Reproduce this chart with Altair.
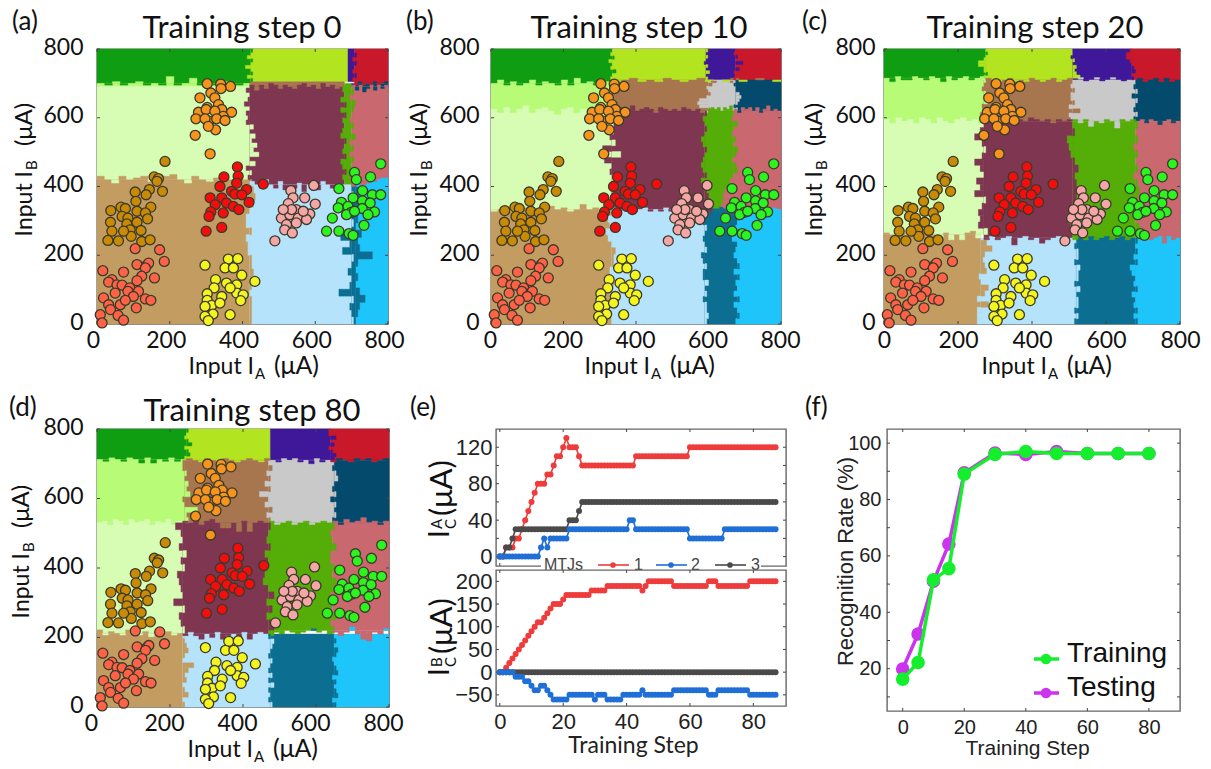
import altair as alt
import pandas as pd

# ---------- region colours ----------
DG, LM, IN, RD = "#0F9D12", "#B2E41F", "#3F1799", "#C9182A"
MG, PG, TN, BR = "#B7FB77", "#D7FDB4", "#C39C62", "#A7754E"
MR, GY, NV, GN = "#7F3650", "#C9C9C9", "#034A6C", "#55AD08"
RS, LB, TL, CY = "#C9686F", "#B4E3FB", "#0C6F92", "#1EC5FA"

# ---------- regions: (x0, x1, y0, y1, colour) ----------
BASE_A = [(0,423,700,800,DG),(423,690,705,800,LM),(690,708,705,800,IN),(708,800,700,800,RD),
          (0,420,690,700,MG),(0,420,420,690,PG),(0,420,0,420,TN),(420,680,690,705,BR),
          (420,680,405,690,MR),(680,700,405,700,GN),(700,800,690,700,NV),(700,800,420,690,RS),
          (420,700,0,405,LB),(700,712,0,420,TL),(712,800,0,420,CY)]
EDGES_A = [("h",700,0,423,MG,DG,[0,-5,5,-5,0,5,-5,0,-5,20,-5,0,15,-5,0,-5,5,0,-5,0]),
           ("h",420,0,420,TN,PG,[10,0,-10,10,0,5,10,-5,0,10,15,0,-10,10,0,-5,5,10,0,10,0]),
           ("v",420,0,420,TN,LB,[5,5,5,5,0,5,5,10,5,5,-5,-5,-10,5,-10,-10,0,10,15,10,5]),
           ("v",420,420,700,PG,MR,[-5,5,-10,15,0,25,10,20,5,15,0,10,-10,-5,-10,0,-15,-5,0,-10,0]),
           ("h",405,420,680,LB,MR,[10,0,-10,15,0,-10,10,-15,-5,-10,5,-20,0,10,-15,10,0,-10,-20,0]),
           ("h",690,420,680,MR,BR,[5,-10,5,-5,10,5,-5,5,0,-5,5,10,0,5,-5,10,0,5,-5,0]),
           ("v",680,405,690,MR,GN,[0,-5,5,-5,-10,5,-5,0,5,-10,-5,0,-5,5,-10,5,-10,0,-5]),
           ("v",700,405,700,GN,RS,[5,-5,10,0,5,-5,5,-5,10,0,5,-5,0,5,10,-5,5,0]),
           ("v",423,705,800,DG,LM,[5,-10,5,0,-15,0,5,-10,0,5]),
           ("v",708,705,800,IN,RD,[-5,5,-5,0,5,-5,5,0]),
           ("h",700,708,800,NV,RD,[-5,5,-5,0,-5,5,-5,0,5]),
           ("h",690,700,800,RS,NV,[5,-10,5,-15,-5,5,-10,5,-5,5]),
           ("h",420,700,800,CY,RS,[-20,-10,-15,-15,-10,-5,-5,0,5,5]),
           ("v",700,0,405,LB,TL,[5,0,-5,5,-35,-5,0,-10,0,5,-25,-5,-30,0,5,0,-20,-5,5,0]),
           ("v",712,0,420,TL,CY,[0,5,10,25,10,0,5,0,5,45,10,5,15,0,5,0,5,10,5,0])]

BASE_B = [(0,335,700,800,DG),(335,593,710,800,LM),(593,675,710,800,IN),(675,800,710,800,RD),
          (0,333,620,700,MG),(0,333,333,620,PG),(0,333,0,333,TN),(333,600,620,710,BR),
          (600,675,620,710,GY),(675,800,620,710,NV),(333,590,333,620,MR),(590,670,320,620,GN),
          (670,800,333,620,RS),(333,590,0,333,LB),(590,680,0,320,TL),(680,800,0,333,CY)]
EDGES_B = [("h",700,0,335,MG,DG,[0,10,-5,5,-5,0,10,-5,5,0,-5,10,-5,15,0,5,-5,0,5]),
           ("h",620,0,333,PG,MG,[5,-5,10,-5,5,15,-5,5,10,0,-10,5,10,-5,5,0,10,-5,5]),
           ("h",333,0,333,TN,PG,[-5,0,5,-5,0,5,0,-5,5,10,0,5,-5,0,15,0,5,-5,5]),
           ("v",333,0,333,TN,LB,[0,-5,-5,5,-5,0,5,-5,-5,5,5,10,0,-10,-15,-5,-10,0]),
           ("v",333,333,620,PG,MR,[-5,-5,0,5,0,5,-5,0,-20,25,-25,10,-5,5,5,10,5]),
           ("v",335,700,800,DG,LM,[5,-5,0,10,-5,0,-10,5,-5,0]),
           ("h",710,335,800,BR,LM,[-5,0,5,-5,0,-5,5,0,-5,0,5,-5,0,-5,5,-5,0,5,0,-5]),
           ("v",593,710,800,LM,IN,[5,0,10,0,5,-5,0,5,0,5]),
           ("v",675,710,800,IN,RD,[-5,0,-5,10,0,20,0,5,-5,0]),
           ("h",620,333,590,MR,BR,[5,-5,10,5,15,0,5,10,5,-5,10,5,0,5,0,10,5,0,5,-5]),
           ("v",600,620,710,BR,GY,[5,-25,-30,-25,-5,5,0,-5,10,0]),
           ("h",702,600,675,BR,GY,[0,5,5,-25,-25,-25,-25,0,5,0]),
           ("h",620,590,675,GN,GY,[-5,5,10,5,10,0,10,5,15,0]),
           ("v",675,620,710,GY,NV,[5,-5,5,10,15,10,0,0,-5,0]),
           ("h",620,670,800,RS,NV,[5,-5,10,5,10,0,10,-5,5,15,0,5,0]),
           ("v",590,320,620,MR,GN,[25,20,15,10,5,0,-10,5,-5,-10,-5,0,5,-5,-10,0,5,0,-5,5]),
           ("v",670,320,620,GN,RS,[-35,-35,-30,-30,-25,-10,-10,0,10,5,-5,5,10,0,5,-5,0,10,-5,0]),
           ("h",333,333,590,LB,MR,[5,-5,0,5,-5,0,5,-5,0,-5,5,-5,5,0,-5,0,5,-5]),
           ("h",320,590,680,TL,GN,[5,5,15,15,20,15,10,10,5]),
           ("h",333,680,800,CY,RS,[-5,0,5,-5,0,5,-5,0,5,0]),
           ("v",590,0,320,LB,TL,[5,10,5,5,-5,5,0,10,-5,-5,5,-5,-10,5,0,-5,0,5,-5,0]),
           ("v",680,0,320,TL,CY,[-5,5,0,-10,5,-10,0,-5,5,-10,5,0,-10,-5,0,-15,-5,-5,0,0])]

BASE_C = [(0,275,715,800,DG),(275,510,710,800,LM),(510,670,710,800,IN),(670,800,710,800,RD),
          (0,270,590,715,MG),(0,270,260,590,PG),(0,262,0,260,TN),(270,510,590,710,BR),
          (510,680,590,710,GY),(680,800,590,710,NV),(270,510,250,590,MR),(510,680,250,590,GN),
          (680,800,250,590,RS),(262,520,0,250,LB),(520,680,0,250,TL),(680,800,0,250,CY)]
EDGES_C = [("h",715,0,275,MG,DG,[0,-10,5,-5,-5,5,0,-5,5,0,-10,5,-5,0,5,-5,0,5]),
           ("h",590,0,270,PG,MG,[5,-5,10,0,5,-5,10,5,-5,10,0,-5,5,10,0,5,-5]),
           ("h",260,0,262,TN,PG,[5,0,-5,5,-5,0,10,15,10,0,-10,5,-15,0,-15,5,10,-10]),
           ("v",262,0,260,TN,LB,[-10,-10,-10,20,-10,10,20,0,-5,15,10,5,10,30,15,0]),
           ("v",270,260,590,PG,MR,[10,-15,-10,-15,-5,5,-25,-10,-20,0,-10,-25,-5,5,-5,-25,-10,0]),
           ("v",270,590,715,MG,BR,[5,-10,5,-5,10,0,5,-5,0,5]),
           ("v",275,715,800,DG,LM,[-5,5,-5,-5,-20,-20,-5,0,5,0]),
           ("h",710,275,510,BR,LM,[5,0,-5,0,5,-5,0,-5,5,0,-5,0,5,-5,0,5]),
           ("v",510,715,800,LM,IN,[20,10,5,10,0,5,-5,0,0]),
           ("h",712,510,670,GY,IN,[0,5,-5,0,5,-5,0,5,0,-5,0]),
           ("v",670,710,800,IN,RD,[5,0,10,5,0,-5,-15,-15,-5]),
           ("h",710,670,800,NV,RD,[0,5,-5,0,5,-5,5,-5,0]),
           ("v",510,590,710,BR,GY,[-5,-10,20,-10,5,-5,-5,5,-5,0]),
           ("v",680,590,710,GY,NV,[-5,5,-5,0,5,-10,5,-5,0]),
           ("h",590,270,510,MR,BR,[0,5,-5,0,5,-5,5,0,10,5,0,5,-5,5,0,5]),
           ("h",590,510,680,GN,GY,[5,-5,5,-15,0,-5,5,0,-20,5,0,5]),
           ("h",590,680,800,RS,NV,[0,5,-5,5,0,-10,0,5,-5,0]),
           ("v",510,250,590,MR,GN,[0,-5,-10,5,15,10,15,10,5,15,5,-5,-10,-15,5,0]),
           ("v",680,250,590,GN,RS,[5,10,0,5,-5,5,10,5,-5,5,0,5,-5,5,0,5]),
           ("h",250,270,510,LB,MR,[-5,5,-5,0,5,-20,0,5,-5,0,-15,-5,0,5,-5,0]),
           ("h",250,510,680,TL,GN,[-5,0,-5,5,-5,0,5,-5,0,5,-5,0]),
           ("h",250,680,800,CY,RS,[5,-5,0,-5,0,5,-15,5,-5,0]),
           ("v",520,0,250,LB,TL,[-5,5,-5,5,5,0,10,-5,5,5,10,-5,5,5,-5,0]),
           ("v",680,0,250,TL,CY,[5,-5,5,-5,0,-10,5,-5,0,-10,-15,5,-5,5,0,5])]

BASE_D = [(0,245,712,800,DG),(245,475,710,800,LM),(475,640,710,800,IN),(640,800,710,800,RD),
          (0,240,530,712,MG),(0,235,212,530,PG),(0,235,0,212,TN),(240,470,530,710,BR),
          (470,650,530,710,GY),(650,800,530,710,NV),(235,470,210,530,MR),(470,645,220,530,GN),
          (645,800,220,530,RS),(235,475,0,210,LB),(475,650,0,210,TL),(650,800,0,210,CY)]
EDGES_D = [("h",712,0,245,MG,DG,[0,-5,5,0,-5,5,0,-10,5,-10,0,-5,5,-5,0]),
           ("h",530,0,232,PG,MG,[0,5,-5,10,5,-5,10,0,5,10,-5,5,0,10,-5,5]),
           ("h",212,0,235,TN,PG,[10,-5,5,0,-5,10,0,-5,5,-10,5,0,5,-5,0]),
           ("v",235,212,530,PG,MR,[5,-5,-10,5,-25,0,-5,-10,-15,5,-5,10,-10,0,-5,-20]),
           ("v",245,712,800,DG,LM,[-5,10,5,-5,15,5,-5,0,5]),
           ("h",710,245,475,BR,LM,[5,0,-5,5,0,-10,5,0,-5,0,5,0,-5,5]),
           ("h",710,475,640,GY,IN,[0,-5,5,0,5,-5,0,-10,5,-5,0]),
           ("h",710,640,800,NV,RD,[-5,5,0,-5,5,0,5,-5,0,5]),
           ("v",640,710,800,IN,RD,[10,15,5,-5,10,0,15,-5,-5]),
           ("v",240,530,710,MG,BR,[10,5,35,0,-5,15,5,10,0,5,-5,-5]),
           ("v",470,530,710,BR,GY,[5,-5,10,-10,0,-25,5,-10,5,-5,10,0]),
           ("v",650,530,710,GY,NV,[-5,5,0,5,-10,5,-5,0,10,5,-5,0]),
           ("h",530,235,470,MR,BR,[5,0,10,-5,5,10,0,-15,-15,0,-25,5,-25,0,5,0]),
           ("h",530,470,645,GN,GY,[5,-5,0,5,-5,0,5,-5,0,5,0]),
           ("h",530,645,800,RS,NV,[5,-5,10,0,5,15,0,5,-5,5]),
           ("v",470,212,530,MR,GN,[15,5,-5,10,-5,15,0,-15,-10,-5,0,-10,5,-5,0,5]),
           ("v",645,212,530,GN,RS,[5,-5,10,0,5,-5,5,10,0,5,-5,-5,10,0,-5,5]),
           ("h",210,235,470,LB,MR,[-5,5,-5,-15,0,-10,5,-15,-5,0,-20,5,-15,0,5,0]),
           ("h",220,470,645,TL,GN,[-15,-5,-10,0,-5,-10,-5,0,5,-5,0,-10]),
           ("h",220,645,800,CY,RS,[-5,-15,-5,10,-10,-25,-30,-5,-10,5]),
           ("v",235,0,212,TN,LB,[5,0,15,5,0,10,5,15,30,0,5,15,10,5,0]),
           ("v",475,0,210,LB,TL,[5,-5,0,-5,10,-5,5,-5,0,5,-5,0,5,10,-5]),
           ("v",650,0,210,TL,CY,[5,-5,10,5,0,5,-5,10,5,0,-5,5,10,0,5,0])]

# ---------- scatter points, same inputs in panels a-d ----------
ORANGE_X = [303,340,367,341,313,283,324,334,303,279,300,343,370,324,347,272,308,329,352,297,326,270,311,306]
ORANGE_Y = [699,698,691,685,672,658,658,638,630,616,624,624,616,619,604,597,590,597,592,597,565,549,495,575]
GOLD_X = [187,157,169,165,144,105,135,180,107,148,38,66,78,110,133,139,69,85,37,82,110,41,91,121,30,59,94,123,146,73]
GOLD_Y = [473,428,423,415,391,384,376,386,357,340,330,340,336,328,323,306,313,308,296,291,296,270,274,272,243,242,255,240,245,270]
CORAL_X = [105,172,185,16,73,110,137,142,133,158,123,41,32,55,69,110,90,50,85,114,18,100,133,148,32,64,78,108,37,58,9,73,14]
CORAL_Y = [219,216,182,155,151,173,171,177,163,134,139,129,122,114,113,126,105,90,95,95,76,80,73,69,56,56,69,47,42,25,27,11,3]
RED_X = [386,457,349,388,338,384,370,411,311,343,379,398,325,356,418,375,313,347,390,308,343,300]
RED_Y = [457,407,428,430,400,410,386,391,367,367,378,376,347,352,354,342,326,323,333,313,281,270]
YELLOW_X = [297,361,387,352,375,398,326,434,356,384,322,303,343,384,402,395,303,315,338,297,319,366,297,306,366]
YELLOW_Y = [171,189,190,163,163,142,129,124,119,114,105,88,80,90,85,68,69,54,61,51,29,27,22,10,105]
PINK_X = [596,533,571,539,600,526,548,585,507,530,553,576,521,548,516,537,489,567,535,512]
PINK_Y = [403,388,367,367,349,350,333,320,308,318,308,304,289,294,274,265,242,328,333,333]
LIME_X = [780,708,713,752,665,730,757,780,704,672,730,751,663,690,729,763,699,686,745,647,734,631,665,693,704,708]
LIME_Y = [466,441,420,428,394,388,376,376,367,354,358,352,338,342,336,326,325,318,318,308,287,270,270,263,258,328]

CLUSTERS = [(ORANGE_X,ORANGE_Y,"#F7941D"),(GOLD_X,GOLD_Y,"#C98A05"),(CORAL_X,CORAL_Y,"#FF6247"),
            (RED_X,RED_Y,"#F50D0D"),(YELLOW_X,YELLOW_Y,"#F4F41E"),(PINK_X,PINK_Y,"#F6A6A6"),
            (LIME_X,LIME_Y,"#2CF41E")]

# ---------- panel e ----------
STEPS = list(range(88))
A_1 = [0,0,10,10,10,20,20,30,40,50,60,70,80,80,80,90,90,100,110,110,120,130,120,120,120,110] + [100]*17 + [110]*17 + [120]*28
A_2 = [0]*13 + [10,20,10] + [20]*6 + [30]*19 + [40,40] + [30]*17 + [20]*11 + [30]*17
A_3 = [0,0,10,10,20] + [30]*17 + [40,40,40,50] + [60]*62
B_1 = [0,0,10,20,30,40,50,60,70,80,90,100,110,110,120,130,140,150,150,150,160] + [170]*8 + [180]*5 + [190]*11 + [180,190] + [200]*8 + [190]*11 + [200]*3 + [190]*10 + [200]*9
B_2 = [0,0,0,0,0,-10,-10,-10,-20,-20,-30,-40,-40,-30,-30,-40,-50] + [-60]*5 + [-50]*8 + [-60] + [-50]*3 + [-60]*5 + [-50]*6 + [-40] + [-50]*9 + [-40]*11 + [-50]*3 + [-40]*10 + [-50]*9
B_3 = [0]*88
E_COL = {"1": "#EE3B3B", "2": "#1F6FD6", "3": "#4A4A4A"}

# ---------- panel f ----------
F_STEP = [0,5,10,15,20,30,40,50,60,70,80]
TRAINING = [16.3,22.2,51.5,55.5,89,96,97,96.3,96.3,96.3,96.3]
TESTING = [19.9,32.3,51,64.2,89.5,96.5,96,97,96.3,96.3,96.3]
F_GREEN, F_MAG = "#14EE2C", "#CC33EE"

SANS, CAL = "Liberation Sans", "Lato"
FRAME = "#666666"
TICK = "#444444"


def txt(s, x, y, size, angle=0, align="left", font=CAL, color="#111111", baseline="alphabetic"):
    return alt.Chart(pd.DataFrame({"t": [s]})).mark_text(
        fontSize=size, font=font, align=align, baseline=baseline, angle=angle, color=color
    ).encode(x=alt.value(x), y=alt.value(y), text="t:N")


def inner_ticks(xs, ys, xsc, ysc, xa, ya, w, h, length=4):
    dx = pd.DataFrame({"v": xs})
    dy = pd.DataFrame({"v": ys})
    out = []
    for a, b in ((h, h - length), (0, length)):
        out.append(alt.Chart(dx).mark_rule(color=TICK, strokeWidth=1).encode(
            x=alt.X("v:Q", scale=xsc, axis=xa), y=alt.value(a), y2=alt.value(b)))
    for a, b in ((0, length), (w, w - length)):
        out.append(alt.Chart(dy).mark_rule(color=TICK, strokeWidth=1).encode(
            y=alt.Y("v:Q", scale=ysc, axis=ya), x=alt.value(a), x2=alt.value(b)))
    return out


def scatter_panel(base, edges, w, h, title, title_x, title_y, letter, lx, ly, xoff, ypad,
                  xanchor, xbase, yanchor, ybase, ysub="B"):
    rows = [dict(x0=a, x1=b, y0=c, y1=d, c=col) for a, b, c, d, col in base]
    for kind, fixed, start, end, low, high, offs in edges:
        step = (end - start) / len(offs)
        for i, o in enumerate(offs):
            if o == 0:
                continue
            col = low if o > 0 else high
            p, q = sorted((fixed, fixed + o))
            s0, s1 = start + i * step, start + (i + 1) * step
            if kind == "h":
                rows.append(dict(x0=s0, x1=s1, y0=p, y1=q, c=col))
            else:
                rows.append(dict(x0=p, x1=q, y0=s0, y1=s1, c=col))
    dom = [0, 800]
    sc = alt.Scale(domain=dom, nice=False, zero=False)
    vals = [0, 200, 400, 600, 800]
    xa = alt.Axis(values=vals, title=None, tickSize=0, domain=False, grid=False, labelFont=CAL,
                  labelFontSize=23, labelPadding=5, labelOffset=xoff, labelColor="#111111", labelFlush=False)
    ya = alt.Axis(values=vals, title=None, tickSize=0, domain=False, grid=False, labelFont=CAL,
                  labelFontSize=23, labelPadding=ypad, labelOffset=-2, labelColor="#111111", labelFlush=False)
    rects = alt.Chart(pd.DataFrame(rows)).mark_rect(strokeWidth=0.4).encode(
        x=alt.X("x0:Q", scale=sc, axis=xa),
        x2="x1:Q",
        y=alt.Y("y0:Q", scale=sc, axis=ya),
        y2="y1:Q",
        color=alt.Color("c:N", scale=None),
        stroke=alt.Stroke("c:N", scale=None),
    )
    layers = [rects] + inner_ticks(vals, vals, sc, sc, xa, ya, w, h, 3)
    for xs, ys, col in CLUSTERS:
        layers.append(alt.Chart(pd.DataFrame({"x": xs, "y": ys})).mark_circle(
            size=100, color=col, opacity=1, stroke="#3A3A2A", strokeWidth=1.3
        ).encode(x=alt.X("x:Q", scale=sc, axis=xa), y=alt.Y("y:Q", scale=sc, axis=ya)))
    layers += [
        txt(title, title_x, title_y, 31, align="center"),
        txt(letter, lx, ly, 26),
        txt("Input I", xanchor, h + xbase, 23, align="right"),
        txt("A", xanchor + 1, h + xbase + 5, 15),
        txt("(μA)", xanchor + 20, h + xbase, 25),
        txt("Input I", ybase, yanchor, 23, angle=270, align="right"),
        txt(ysub, ybase + 5, yanchor - 1, 15, angle=270),
        txt("(μA)", ybase, yanchor - 25, 24, angle=270),
    ]
    return alt.layer(*layers).properties(width=w, height=h)


def series_layer(xs, ys, col, xsc, ysc, xa, ya):
    d = pd.DataFrame({"x": xs, "y": ys})
    e = alt.Chart(d)
    return [
        e.mark_line(color=col, strokeWidth=1.6).encode(x=alt.X("x:Q", scale=xsc, axis=xa), y=alt.Y("y:Q", scale=ysc, axis=ya)),
        e.mark_circle(color=col, size=36, opacity=1).encode(x=alt.X("x:Q", scale=xsc, axis=xa), y=alt.Y("y:Q", scale=ysc, axis=ya)),
    ]


E_XD = [-1.2, 90.3]
E_XSC = alt.Scale(domain=E_XD, nice=False, zero=False)
E_W = 290


def e_top():
    h = 137
    ysc = alt.Scale(domain=[-10.3, 140], nice=False, zero=False)
    ya = alt.Axis(values=[0, 40, 80, 120], title=None, tickSize=0, domain=False, grid=False, labelFont=SANS,
                  labelFontSize=22, labelPadding=4, labelColor="#222222")
    layers = inner_ticks([0, 20, 40, 60, 80], [0, 20, 40, 60, 80, 100, 120], E_XSC, ysc, None, ya, E_W, h, 3)
    layers += series_layer(STEPS, A_1, E_COL["1"], E_XSC, ysc, None, ya)
    layers += series_layer(STEPS, A_3, E_COL["3"], E_XSC, ysc, None, ya)
    layers += series_layer(STEPS, A_2, E_COL["2"], E_XSC, ysc, None, ya)
    leg = alt.Chart(pd.DataFrame({"k": [0]}))
    layers.append(leg.mark_rect(color="white").encode(
        x=alt.value(45), x2=alt.value(265), y=alt.value(129), y2=alt.value(140)))
    layers.append(txt("MTJs", 48, 136, 16, font=SANS, color="#444444", baseline="middle"))
    for a, b, dot, tx, key in ((102, 133, 117, 138, "1"), (160, 191, 175, 195, "2"), (219, 250, 234, 255, "3")):
        layers.append(leg.mark_rule(color=E_COL[key], strokeWidth=1.6).encode(
            x=alt.value(a), x2=alt.value(b), y=alt.value(136)))
        layers.append(leg.mark_circle(color=E_COL[key], size=32, opacity=1).encode(
            x=alt.value(dot), y=alt.value(136)))
        layers.append(txt(key, tx, 136, 16, font=SANS, color="#444444", baseline="middle"))
    layers += [
        txt("(e)", -86, -13, 26),
        txt("I", -47, 109, 28, angle=270),
        txt("A", -54, 100, 15, angle=270),
        txt("C", -40, 100, 15, angle=270),
        txt("(μA)", -44, 87, 31, angle=270),
    ]
    return alt.layer(*layers).properties(width=E_W, height=h)


def e_bottom():
    h = 136
    ysc = alt.Scale(domain=[-74.5, 225], nice=False, zero=False)
    xa = alt.Axis(values=[0, 20, 40, 60, 80], title="Training Step", tickSize=0, domain=False, grid=False,
                  labelFont=SANS, labelFontSize=22, labelPadding=5, labelColor="#222222",
                  titleFont=CAL, titleFontSize=23, titleFontWeight="normal", titleColor="#222222",
                  titleX=137, titleY=46, titleBaseline="alphabetic")
    ya = alt.Axis(values=[-50, 0, 50, 100, 150, 200], title=None, tickSize=0, domain=False, grid=False,
                  labelFont=SANS, labelFontSize=22, labelPadding=4, labelColor="#222222")
    layers = inner_ticks([0, 20, 40, 60, 80], [-50, 0, 50, 100, 150, 200], E_XSC, ysc, xa, ya, E_W, h, 3)
    layers += series_layer(STEPS, B_1, E_COL["1"], E_XSC, ysc, xa, ya)
    layers += series_layer(STEPS, B_3, E_COL["3"], E_XSC, ysc, xa, ya)
    layers += series_layer(STEPS, B_2, E_COL["2"], E_XSC, ysc, xa, ya)
    layers += [
        txt("I", -47, 106, 28, angle=270),
        txt("B", -54, 97, 15, angle=270),
        txt("C", -40, 97, 15, angle=270),
        txt("(μA)", -44, 84, 31, angle=270),
    ]
    return alt.layer(*layers).properties(width=E_W, height=h)


def f_panel():
    w, h = 293, 282
    xsc = alt.Scale(domain=[-5.1, 90.1], nice=False, zero=False)
    ysc = alt.Scale(domain=[5, 105], nice=False, zero=False)
    xa = alt.Axis(values=[0, 20, 40, 60, 80], title="Training Step", tickSize=0, domain=False, grid=False,
                  labelFont=SANS, labelFontSize=20, labelPadding=6, labelColor="#222222",
                  titleFont=SANS, titleFontSize=21, titleFontWeight="normal", titleColor="#222222",
                  titleX=140, titleY=43, titleBaseline="alphabetic")
    ya = alt.Axis(values=[20, 40, 60, 80, 100], title="Recognition Rate (%)", tickSize=0, domain=False, grid=False,
                  labelFont=SANS, labelFontSize=20, labelPadding=6, labelColor="#222222",
                  titleFont=SANS, titleFontSize=22, titleFontWeight="normal", titleColor="#222222",
                  titleX=-35, titleY=132, titleBaseline="alphabetic")
    layers = inner_ticks([0, 20, 40, 60, 80], [10, 20, 30, 40, 50, 60, 70, 80, 90, 100], xsc, ysc, xa, ya, w, h, 3)
    for vals, col in ((TESTING, F_MAG), (TRAINING, F_GREEN)):
        d = alt.Chart(pd.DataFrame({"x": F_STEP, "y": vals}))
        layers.append(d.mark_line(color=col, strokeWidth=3.5).encode(
            x=alt.X("x:Q", scale=xsc, axis=xa), y=alt.Y("y:Q", scale=ysc, axis=ya)))
        layers.append(d.mark_circle(color=col, size=185, opacity=1).encode(
            x=alt.X("x:Q", scale=xsc, axis=xa), y=alt.Y("y:Q", scale=ysc, axis=ya)))
    leg = alt.Chart(pd.DataFrame({"k": [0]}))
    for name, col, yl, yt in (("Training", F_GREEN, 230, 225), ("Testing", F_MAG, 264, 259)):
        layers.append(leg.mark_rule(color=col, strokeWidth=3.5).encode(
            x=alt.value(147), x2=alt.value(172), y=alt.value(yl)))
        layers.append(leg.mark_circle(color=col, size=115, opacity=1).encode(
            x=alt.value(159), y=alt.value(yl)))
        layers.append(txt(name, 180, yt, 28, font=SANS, color="#111111", baseline="middle"))
    layers.append(txt("(f)", -82, -13, 26))
    return alt.layer(*layers).properties(width=w, height=h)


a = scatter_panel(BASE_A, EDGES_A, 291, 275, "Training step 0", 145, -11, "(a)", -85, -19, -4, 14, 157, 50, 122, -65)
b = scatter_panel(BASE_B, EDGES_B, 290, 275, "Training step 10", 148, -11, "(b)", -85, -19, -1, 12, 159, 50, 122, -64)
c = scatter_panel(BASE_C, EDGES_C, 296, 275, "Training step 20", 151, -11, "(c)", -82, -19, 0, 9, 163, 50, 122, -62)
d = scatter_panel(BASE_D, EDGES_D, 292, 278, "Training step 80", 155, -8, "(d)", -88, -13, -6, 14, 156, 50, 124, -68)

e = alt.vconcat(e_top(), e_bottom(), spacing=4, bounds="flush")
row1 = alt.hconcat(a, b, c, spacing=103, bounds="flush")
left2 = alt.hconcat(d, e, spacing=5)
row2 = alt.hconcat(left2, f_panel(), spacing=16)

chart = alt.concat(row1, row2, columns=1, spacing=11).properties(
    align="none", padding=0, background="white"
).configure_view(stroke=FRAME, strokeWidth=1.4)

chart.save("out.html", embed_options={"renderer": "svg", "actions": False})
